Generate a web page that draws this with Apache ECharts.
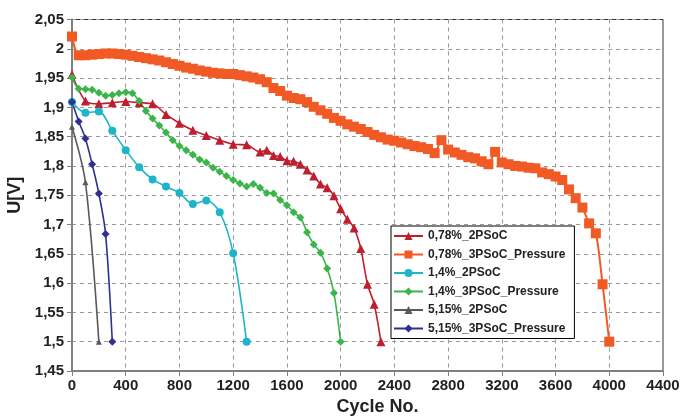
<!DOCTYPE html>
<html>
<head>
<meta charset="utf-8">
<script src="https://cdn.jsdelivr.net/npm/echarts@6/dist/echarts.min.js"></script>
<style>html,body{margin:0;padding:0;background:#fff}#c{width:700px;height:416px}</style>
</head>
<body>
<div id="c"></div>
<script>
const seriesNames = ['0,78%_2PSoC','0,78%_3PSoC_Pressure','1,4%_2PSoC','1,4%_3PSoC_Pressure','5,15%_2PSoC','5,15%_3PSoC_Pressure'];

const red2X = [0,100,200,300,400,500,600,700,800,900,1000,1100,1200,1300,1400,1450,1500,1550,1600,1650,1700,1750,1800,1850,1900,1950,2000,2050,2100,2150,2200,2250,2300];
const red2Y = [1.956,1.911,1.906,1.908,1.910,1.908,1.906,1.888,1.873,1.861,1.852,1.844,1.837,1.836,1.824,1.827,1.818,1.816,1.809,1.808,1.803,1.793,1.783,1.769,1.763,1.749,1.727,1.709,1.694,1.659,1.598,1.564,1.500];

const orange3X = [0,50,100,150,200,250,300,350,400,450,500,550,600,650,700,750,800,850,900,950,1000,1050,1100,1150,1200,1250,1300,1350,1400,1450,1500,1550,1600,1650,1700,1750,1800,1850,1900,1950,2000,2050,2100,2150,2200,2250,2300,2350,2400,2450,2500,2550,2600,2650,2700,2750,2800,2850,2900,2950,3000,3050,3100,3150,3200,3250,3300,3350,3400,3450,3500,3550,3600,3650,3700,3750,3800,3850,3900,3950,4000];
const orange3Y = [2.021,1.989,1.989,1.990,1.991,1.992,1.992,1.991,1.990,1.988,1.986,1.984,1.982,1.980,1.977,1.974,1.971,1.968,1.966,1.963,1.961,1.959,1.958,1.957,1.957,1.955,1.953,1.951,1.948,1.943,1.933,1.928,1.920,1.916,1.914,1.909,1.901,1.895,1.889,1.882,1.877,1.871,1.867,1.863,1.858,1.853,1.849,1.845,1.843,1.840,1.837,1.834,1.832,1.829,1.822,1.844,1.828,1.823,1.819,1.815,1.813,1.808,1.803,1.824,1.806,1.803,1.800,1.799,1.797,1.796,1.789,1.786,1.782,1.776,1.760,1.745,1.729,1.702,1.685,1.598,1.500];

const cyan2X = [0,100,200,300,400,500,600,700,800,900,1000,1100,1200,1300];
const cyan2Y = [1.909,1.891,1.893,1.860,1.827,1.798,1.777,1.765,1.754,1.735,1.741,1.721,1.651,1.500];

const green3X = [0,50,100,150,200,250,300,350,400,450,500,550,600,650,700,750,800,850,900,950,1000,1050,1100,1150,1200,1250,1300,1350,1400,1450,1500,1550,1600,1650,1700,1750,1800,1850,1900,1950,2000];
const green3Y = [1.951,1.932,1.931,1.930,1.925,1.920,1.921,1.924,1.926,1.924,1.911,1.894,1.881,1.869,1.857,1.844,1.834,1.827,1.819,1.811,1.806,1.797,1.790,1.783,1.776,1.770,1.765,1.769,1.763,1.754,1.753,1.742,1.733,1.721,1.712,1.687,1.666,1.652,1.625,1.583,1.500];

const gray2X = [0,100,200];
const gray2Y = [1.867,1.772,1.500];

const blue3X = [0,50,100,150,200,250,300];
const blue3Y = [1.909,1.876,1.847,1.803,1.753,1.684,1.500];

const xTicks = {min:0, max:4400, step:400};
const yTicks = {min:1.45, max:2.05, step:0.05};

function pts(xs, ys){ return xs.map((x,i)=>[x, ys[i]]); }

const FONT = '"Liberation Sans", Arial, sans-serif';
const defs = [
  {x:red2X, y:red2Y, color:'#be1e2d', symbol:'triangle', size:9},
  {x:orange3X, y:orange3Y, color:'#f15a24', symbol:'rect', size:10},
  {x:cyan2X, y:cyan2Y, color:'#1fb5c8', symbol:'circle', size:8},
  {x:green3X, y:green3Y, color:'#39b54a', symbol:'diamond', size:8},
  {x:gray2X, y:gray2Y, color:'#58595b', symbol:'triangle', size:6},
  {x:blue3X, y:blue3Y, color:'#2e3192', symbol:'diamond', size:8}
];

const chart = echarts.init(document.getElementById('c'), null, {renderer:'canvas'});
chart.setOption({
  animation:false,
  backgroundColor:'#fff',
  textStyle:{fontFamily:FONT},
  grid:{left:72, right:37, top:19.5, bottom:45, containLabel:false, outerBoundsMode:'none',
        show:true, borderColor:'#333', borderWidth:1, backgroundColor:'transparent'},
  legend:{
    orient:'vertical', left:391, top:226, padding:[4,9,4,2],
    itemWidth:29, itemHeight:10, itemGap:6.5,
    borderColor:'#000', borderWidth:1, backgroundColor:'#fff',
    textStyle:{fontFamily:FONT, fontWeight:'bold', fontSize:12, color:'#222'},
    data:seriesNames
  },
  xAxis:{
    type:'value', min:xTicks.min, max:xTicks.max, interval:xTicks.step,
    name:'Cycle No.', nameLocation:'middle', nameGap:25,
    nameTextStyle:{fontFamily:FONT, fontWeight:'bold', fontSize:18, color:'#222', padding:[0,0,0,20]},
    axisLine:{show:true, lineStyle:{color:'#808080', width:2}},
    axisTick:{show:true, length:5, lineStyle:{color:'#808080', width:1}},
    axisLabel:{fontFamily:FONT, fontWeight:'bold', fontSize:15, color:'#222', margin:7,
      formatter:v=>String(v)},
    splitLine:{show:true, lineStyle:{color:'#999', type:[4,4], width:1}}
  },
  yAxis:{
    type:'value', min:yTicks.min, max:yTicks.max, interval:yTicks.step,
    name:'U[V]', nameLocation:'middle', nameGap:38, nameRotate:90,
    nameTextStyle:{fontFamily:FONT, fontWeight:'bold', fontSize:18, color:'#222'},
    axisLine:{show:true, lineStyle:{color:'#808080', width:2}},
    axisTick:{show:true, length:5, lineStyle:{color:'#808080', width:1}},
    axisLabel:{fontFamily:FONT, fontWeight:'bold', fontSize:15, color:'#222', margin:8,
      formatter:v=>String(+(+v).toFixed(2)).replace('.', ',')},
    splitLine:{show:true, lineStyle:{color:'#999', type:[4,4], width:1}}
  },
  series: defs.map((d,i)=>({
    name:seriesNames[i], type:'line', data:pts(d.x,d.y),
    smooth:0.3, symbol:d.symbol, symbolSize:d.size, showSymbol:true,
    lineStyle:{color:d.color, width:i===1?2:1.6},
    itemStyle:{color:d.color},
    z: i===1?3:2
  }))
});
</script>
</body>
</html>
